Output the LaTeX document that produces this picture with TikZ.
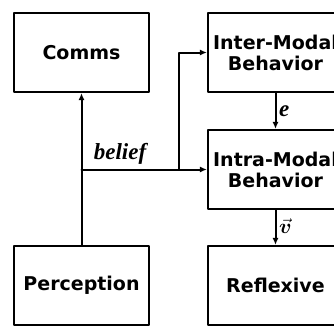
\documentclass[tikz,border=0pt]{standalone}
\usepackage{amsmath}
\usepackage{bm}
\usepackage{fontspec}
\setmainfont{DejaVu Sans}
\newfontfamily\labelfont{Liberation Serif}
\usetikzlibrary{arrows.meta}
\begin{document}
\begin{tikzpicture}[
    x=1pt,y=-1pt,
    line cap=round,
    line join=round,
    block/.style={draw,line width=2.2pt,minimum width=135pt,minimum height=79pt,
                  align=center,font=\fontsize{19}{21}\selectfont\bfseries,inner sep=0pt},
    link/.style={line width=2pt,-{Latex[length=7pt,width=6pt]}},
    tag/.style={font=\labelfont\fontsize{23}{24}\selectfont\bfseries\itshape,inner sep=1pt}
]
\useasboundingbox (0,0) rectangle (334,325);
\clip (0,0) rectangle (334,325);

% -------------------------------------------------
% Blocks
% -------------------------------------------------

\node[block] (comms)  at (81.5,52.5)   {Comms};
\node[block] (inter)  at (275.5,52.5)  {Inter-Modal\\Behavior};
\node[block] (intra)  at (275.5,169.5) {Intra-Modal\\Behavior};
\node[block] (percep) at (81.5,285.5)  {Perception};
\node[block] (reflex) at (275.5,285.5) {Reflexive};

% -------------------------------------------------
% Belief bus
% -------------------------------------------------

\coordinate (bus)   at (percep.north |- intra.west);
\coordinate (split) at (179,169.5);

\draw[link] (percep.north) -- (comms.south);
\draw[link] (bus) -- (intra.west);
\draw[link] (split) |- (inter.west);
\node[tag,anchor=south] (belief) at (120,166) {belief};

% -------------------------------------------------
% Between the behaviours
% -------------------------------------------------

\draw[link] (inter.south) -- (intra.north);
\node[tag,anchor=west] (e) at (278,111) {e};

\draw[link] (intra.south) -- (reflex.north);
\node[tag,anchor=west] (v) at (278,226) {\fontsize{21}{22}\selectfont$\vec{\bm{v}}$};
\end{tikzpicture}
\end{document}
